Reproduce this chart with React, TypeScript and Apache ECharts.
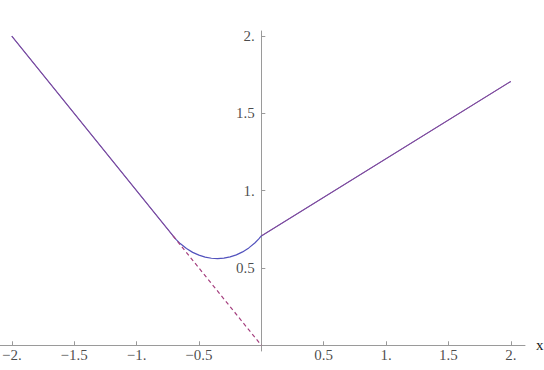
import React, { useEffect, useRef } from "react";
import * as echarts from "echarts";

// Tick values and their labels (Mathematica style)
const xTicks = [-2, -1.5, -1, -0.5, 0.5, 1, 1.5, 2];
const xTickLabels = ["\u22122.", "\u22121.5", "\u22121.", "\u22120.5", "0.5", "1.", "1.5", "2."];
const yTicks = [0.5, 1, 1.5, 2];
const yTickLabels = ["0.5", "1.", "1.5", "2."];

// Smooth (blue) curve
const blueCurve: [number, number][] = [
  [-2, 2], [-0.707, 0.707], [-0.68, 0.682], [-0.65, 0.658], [-0.6, 0.626],
  [-0.55, 0.601], [-0.5, 0.583], [-0.45, 0.57], [-0.4, 0.563], [-0.35, 0.561],
  [-0.3, 0.564], [-0.25, 0.572], [-0.2, 0.585], [-0.15, 0.604], [-0.1, 0.63],
  [-0.05, 0.663], [-0.02, 0.688], [0, 0.707], [2, 1.707],
];
// Piecewise (red) curve
const redLeft: [number, number][] = [[-2, 2], [-0.707, 0.707]];
const redDashed: [number, number][] = [[-0.707, 0.707], [0, 0]];
const redRight: [number, number][] = [[0, 0.707], [2, 1.707]];

const BLUE = "#5252bd";
const RED = "#a5407f";
const AXIS = "#9a9a9a";
const FONT = "Times New Roman, Liberation Serif, serif";

export default function App() {
  const ref = useRef<HTMLDivElement>(null);
  useEffect(() => {
    if (!ref.current) return;
    const chart = echarts.init(ref.current, undefined, { renderer: "svg" });
    const xLabelData = xTicks.map((t, i) => ({ value: [t, 0], name: xTickLabels[i] }));
    const yLabelData = yTicks.map((t, i) => ({ value: [0, t], name: yTickLabels[i] }));
    chart.setOption({
      animation: false,
      backgroundColor: "#ffffff",
      grid: { left: 0, top: 31, width: 525, height: 320, containLabel: false, outerBoundsMode: "none" },
      xAxis: {
        type: "value",
        min: -2.0945,
        max: 2.1137,
        name: "x",
        nameLocation: "end",
        nameGap: 11,
        nameTextStyle: { fontFamily: FONT, fontSize: 15, color: "#1a1a1a", verticalAlign: "middle" },
        axisLine: { onZero: true, lineStyle: { color: AXIS, width: 1 } },
        axisTick: { show: true, inside: true, length: 4, customValues: xTicks, lineStyle: { color: AXIS } },
        axisLabel: { show: false },
        splitLine: { show: false },
      },
      yAxis: {
        type: "value",
        min: -0.037,
        max: 2.033,
        axisLine: { onZero: true, lineStyle: { color: AXIS, width: 1 } },
        axisTick: { show: true, inside: true, length: 4, customValues: yTicks, lineStyle: { color: AXIS } },
        axisLabel: { show: false },
        splitLine: { show: false },
      },
      series: [
        {
          type: "line",
          data: blueCurve,
          showSymbol: false,
          symbol: "none",
          lineStyle: { color: BLUE, width: 1.2 },
          z: 2,
        },
        {
          type: "line",
          data: redLeft,
          symbol: "none",
          lineStyle: { color: RED, width: 1, opacity: 0.7 },
          z: 3,
        },
        {
          type: "line",
          data: redDashed,
          symbol: "none",
          lineStyle: { color: RED, width: 1.2, type: [4, 3] },
          z: 3,
        },
        {
          type: "line",
          data: redRight,
          symbol: "none",
          lineStyle: { color: RED, width: 1, opacity: 0.7 },
          z: 3,
        },
        {
          type: "scatter",
          data: xLabelData,
          symbolSize: 1,
          itemStyle: { color: "rgba(0,0,0,0)" },
          silent: true,
          label: {
            show: true,
            position: "bottom",
            distance: 2,
            formatter: (p: any) => p.name,
            fontFamily: FONT,
            fontSize: 15,
            color: "#1a1a1a",
          },
          z: 4,
        },
        {
          type: "scatter",
          data: yLabelData,
          symbolSize: 1,
          itemStyle: { color: "rgba(0,0,0,0)" },
          silent: true,
          label: {
            show: true,
            position: "left",
            distance: 6,
            formatter: (p: any) => p.name,
            fontFamily: FONT,
            fontSize: 15,
            color: "#1a1a1a",
          },
          z: 4,
        },
      ],
    });
    return () => chart.dispose();
  }, []);
  return (
    <div
      ref={ref}
      style={{ position: "absolute", left: 0, top: 0, width: 544, height: 370, background: "#fff" }}
    />
  );
}
